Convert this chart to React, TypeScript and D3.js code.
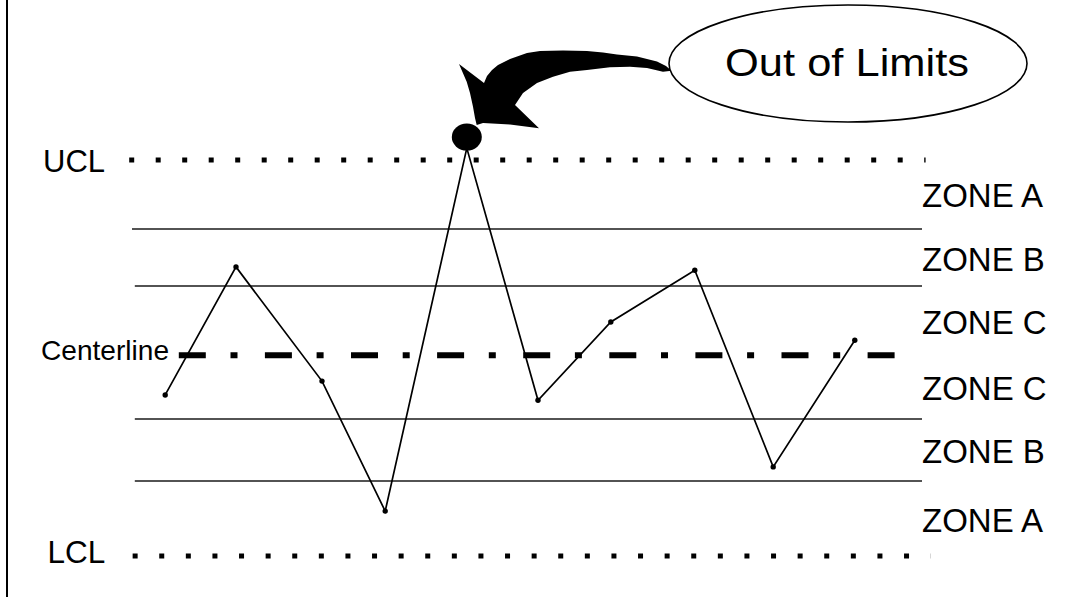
import React from "react";
import * as d3 from "d3";

// ---- data (sigma units on y, sample position 0..100 on x) ----
const sampleX = [4.4, 13.25, 24, 31.9, 42.1, 51, 60.1, 70.6, 80.4, 90.6];
const sampleY = [-0.56, 1.38, -0.35, -2.32, 3.18, -0.64, 0.545, 1.33, -1.65, 0.27];
const outOfLimitIndex = 4;

const ucl = 3;
const lcl = -3;
const centerline = 0.04;
const zoneBoundaries = [1.955, 1.09, -0.924, -1.864];
const zoneLabels = ["ZONE A", "ZONE B", "ZONE C", "ZONE C", "ZONE B", "ZONE A"];
const limitLabels = ["UCL", "LCL"];
const centerLabel = "Centerline";
const calloutText = "Out of Limits";

// callout arrow outline (pixel space annotation)
const arrowShape: [number, number][] = [
  [459, 64], [484, 83], [487, 76], [492, 70], [498, 65], [510, 59], [527, 53],
  [540, 51], [563, 50.5], [587, 51], [603, 52.5], [617, 54.5], [637, 56.5],
  [657, 61.5], [666, 66], [671.5, 70.7], [663, 71.7], [647, 68], [630, 66.7],
  [610, 67.3], [587, 70], [570, 71.7], [553, 76.7], [537, 83], [523, 93],
  [515, 105], [539, 128.3], [510, 124.5], [483, 123], [476.7, 125], [475, 118],
  [473, 106.7], [470, 93], [466.7, 81.7],
];

const W = 1075;
const H = 597;

export default function App() {
  const x = d3.scaleLinear().domain([0, 100]).range([130, 930]);
  const y = d3.scaleLinear().domain([lcl, ucl]).range([556, 160]);

  const pts = sampleX.map((v, i) => [x(v), y(sampleY[i])] as [number, number]);
  const line = d3.line<[number, number]>().x((d) => d[0]).y((d) => d[1]);
  const arrowPath = d3.line<[number, number]>()(arrowShape) + "Z";

  const bounds = [ucl, ...zoneBoundaries.slice(0, 2), centerline, ...zoneBoundaries.slice(2), lcl];
  const zoneMids = zoneLabels.map((_, i) => (bounds[i] + bounds[i + 1]) / 2);

  const font = "'Liberation Sans', Arial, sans-serif";

  return (
    <svg
      width={W}
      height={H}
      style={{ position: "absolute", left: 0, top: 0, background: "#fff" }}
      fontFamily={font}
    >
      <rect x={0} y={0} width={W} height={H} fill="#fff" />
      {/* left frame edge */}
      <line x1={7} x2={7} y1={0} y2={H} stroke="#000" strokeWidth={2} />

      {/* zone boundary lines */}
      {zoneBoundaries.map((v, i) => (
        <line
          key={"z" + i}
          x1={x(i === 0 ? 0.25 : 0.6)}
          x2={x(99)}
          y1={y(v)}
          y2={y(v)}
          stroke="#1a1a1a"
          strokeWidth={1.6}
        />
      ))}

      {/* UCL / LCL dotted */}
      <line
        x1={x(-0.1)}
        x2={x(99.45)}
        y1={y(ucl)}
        y2={y(ucl)}
        stroke="#000"
        strokeWidth={5}
        strokeDasharray="5 21.5"
      />
      <line
        x1={x(0.33)}
        x2={x(100.1)}
        y1={y(lcl)}
        y2={y(lcl)}
        stroke="#000"
        strokeWidth={5}
        strokeDasharray="5 21.6"
      />

      {/* centerline dash-dot */}
      <line
        x1={x(6.1)}
        x2={x(95.65)}
        y1={y(centerline)}
        y2={y(centerline)}
        stroke="#000"
        strokeWidth={6}
        strokeDasharray="27 24.7 7 27.4"
      />

      {/* data line */}
      <path d={line(pts) || ""} fill="none" stroke="#000" strokeWidth={1.7} />
      {pts.map((p, i) =>
        i === outOfLimitIndex ? null : (
          <circle key={"p" + i} cx={p[0]} cy={p[1]} r={2.7} fill="#000" />
        )
      )}
      <ellipse
        cx={pts[outOfLimitIndex][0]}
        cy={pts[outOfLimitIndex][1] - 11}
        rx={15}
        ry={13.5}
        fill="#000"
      />

      {/* callout */}
      <path d={arrowPath} fill="#000" />
      <ellipse cx={848} cy={63.5} rx={179} ry={58.5} fill="#fff" stroke="#000" strokeWidth={1.6} />
      <text x={725} y={76} fontSize={39} textLength={244} lengthAdjust="spacingAndGlyphs" fill="#000">
        {calloutText}
      </text>

      {/* labels */}
      <text x={43} y={y(ucl) + 12} fontSize={31} fill="#000">
        {limitLabels[0]}
      </text>
      <text x={47.5} y={y(lcl) + 7} fontSize={31.5} fill="#000">
        {limitLabels[1]}
      </text>
      <text x={41} y={y(centerline) + 4.6} fontSize={28.5} textLength={128} lengthAdjust="spacingAndGlyphs" fill="#000">
        {centerLabel}
      </text>
      {zoneLabels.map((t, i) => (
        <text key={"zl" + i} x={922} y={y(zoneMids[i]) + 13} fontSize={33} fill="#000">
          {t}
        </text>
      ))}
    </svg>
  );
}
